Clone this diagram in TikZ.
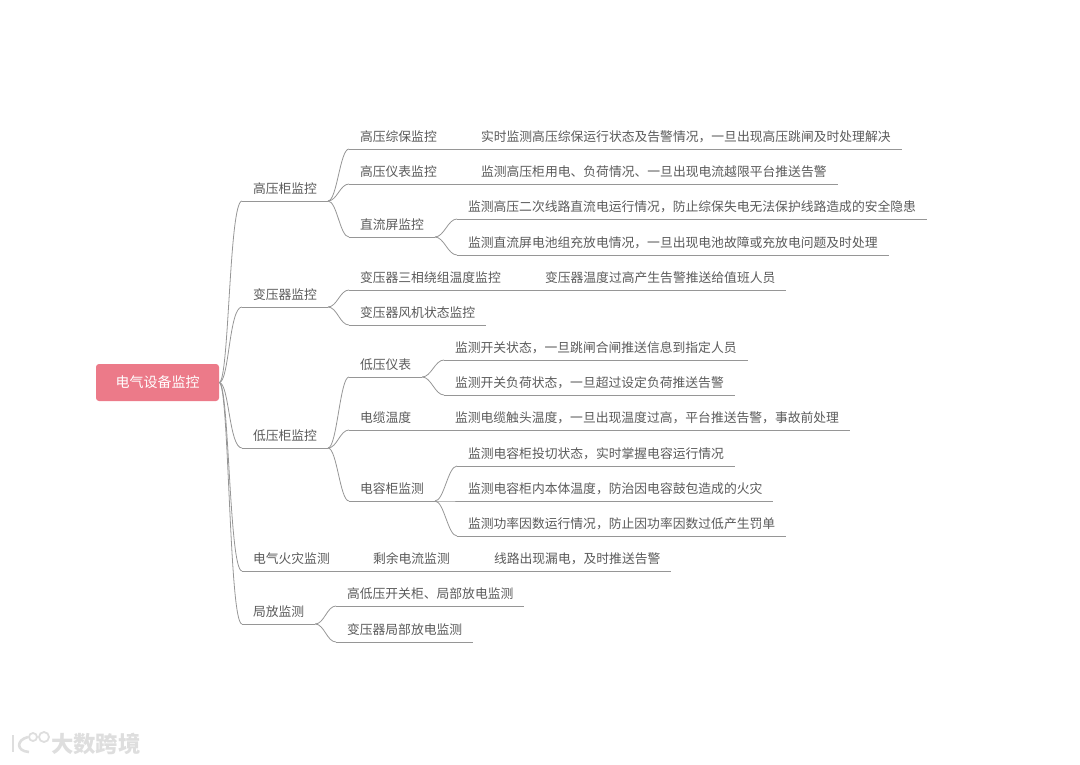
\documentclass[tikz,border=0pt]{standalone}
\usepackage{fontspec}
\usepackage{xcolor}
\usepackage{tikz}
\usetikzlibrary{positioning}
\setmainfont{Noto Sans CJK SC}
\definecolor{rootred}{RGB}{236,122,137}
\definecolor{inkgray}{RGB}{90,90,90}
\definecolor{linegray}{RGB}{150,150,150}
\definecolor{markgray}{RGB}{222,222,222}

\begin{document}
\begin{tikzpicture}[
    x=1pt, y=-1pt,
    link/.style={draw=linegray, line width=0.8pt},
    branch/.style={out=0, in=180, out distance=9pt, in distance=9pt},
    trunk/.style={out=0, in=180, out distance=10pt, in distance=13pt},
    root/.style={fill=rootred, rounded corners=3pt, minimum width=123pt, minimum height=37pt,
                 text=white, font=\fontsize{14}{16}\selectfont, inner sep=0pt},
    topic/.style={anchor=south west, outer sep=0pt, inner xsep=11pt, inner ysep=6pt,
                  text height=10.8pt, text depth=2pt, text=inkgray,
                  font=\fontsize{12.8}{15}\selectfont,
                  append after command={(\tikzlastnode.south west) edge[link] (\tikzlastnode.south east)}},
]
\useasboundingbox (0,0) rectangle (1080,764);

\node[root] (power) at (157.5,382.5) {电气设备监控};

% first level
\node[topic] (hv) at (242,201) {高压柜监控};
\node[topic] (tr) at (242,307) {变压器监控};
\node[topic] (lv) at (242,448) {低压柜监控};
\node[topic] (fire) at (242,571) {电气火灾监测};
\node[topic] (pd) at (242,624) {局放监测};

% high voltage
\node[topic] (hvprot) at (349,149) {高压综保监控};
\node[topic] (hvprotnote) at (470,149) {实时监测高压综保运行状态及告警情况，一旦出现高压跳闸及时处理解决};
\node[topic] (hvmeter) at (349,184) {高压仪表监控};
\node[topic] (hvmeternote) at (470,184) {监测高压柜用电、负荷情况、一旦出现电流越限平台推送告警};
\node[topic] (dc) at (349,237) {直流屏监控};
\node[topic] (dcline) at (457,219) {监测高压二次线路直流电运行情况，防止综保失电无法保护线路造成的安全隐患};
\node[topic] (dcbat) at (457,255) {监测直流屏电池组充放电情况，一旦出现电池故障或充放电问题及时处理};

% transformer
\node[topic] (trtemp) at (349,290) {变压器三相绕组温度监控};
\node[topic] (trtempnote) at (534,290) {变压器温度过高产生告警推送给值班人员};
\node[topic] (trfan) at (349,325) {变压器风机状态监控};

% low voltage
\node[topic] (lvmeter) at (349,377) {低压仪表};
\node[topic] (lvswitch) at (444,360) {监测开关状态，一旦跳闸合闸推送信息到指定人员};
\node[topic] (lvload) at (444,395) {监测开关负荷状态，一旦超过设定负荷推送告警};
\node[topic] (cable) at (349,430) {电缆温度};
\node[topic] (cablenote) at (444,430) {监测电缆触头温度，一旦出现温度过高，平台推送告警，事故前处理};
\node[topic] (cap) at (349,501) {电容柜监测};
\node[topic] (capstate) at (457,466) {监测电容柜投切状态，实时掌握电容运行情况};
\node[topic] (captemp) at (457,501) {监测电容柜内本体温度，防治因电容鼓包造成的火灾};
\node[topic] (capfactor) at (457,536) {监测功率因数运行情况，防止因功率因数过低产生罚单};

% fire and partial discharge
\node[topic] (residual) at (362,571) {剩余电流监测};
\node[topic] (residualnote) at (483,571) {线路出现漏电，及时推送告警};
\node[topic] (pdswitch) at (336,606) {高低压开关柜、局部放电监测};
\node[topic] (pdtr) at (336,642) {变压器局部放电监测};

\foreach \kid in {hv,tr,lv,fire,pd}
    \draw[link] (power.east) to[trunk] (\kid.south west);
\foreach \kid in {hvprot,hvmeter,dc}
    \draw[link] (hv.south east) to[branch] (\kid.south west);
\foreach \kid in {dcline,dcbat}
    \draw[link] (dc.south east) to[branch] (\kid.south west);
\foreach \kid in {trtemp,trfan}
    \draw[link] (tr.south east) to[branch] (\kid.south west);
\foreach \kid in {lvmeter,cable,cap}
    \draw[link] (lv.south east) to[branch] (\kid.south west);
\foreach \kid in {lvswitch,lvload}
    \draw[link] (lvmeter.south east) to[branch] (\kid.south west);
\foreach \kid in {capstate,captemp,capfactor}
    \draw[link] (cap.south east) to[branch] (\kid.south west);
\foreach \kid in {pdswitch,pdtr}
    \draw[link] (pd.south east) to[branch] (\kid.south west);

\draw[link] (hvprot.south east) -- (hvprotnote.south west);
\draw[link] (hvmeter.south east) -- (hvmeternote.south west);
\draw[link] (trtemp.south east) -- (trtempnote.south west);
\draw[link] (cable.south east) -- (cablenote.south west);
\draw[link] (fire.south east) -- (residual.south west);
\draw[link] (residual.south east) -- (residualnote.south west);

% watermark
\node[text=markgray, font=\fontsize{22.4}{24}\selectfont\bfseries, inner sep=0pt] (mark) at (96,744) {大数跨境};
\draw[markgray, line width=2.6pt] (13,735) -- (13,752);
\draw[markgray, line width=2.6pt] (28,737) .. controls (16,740) and (16,751) .. (29,752);
\draw[markgray, line width=1.8pt] (33,737) circle (4) (44,737) circle (5);
\end{tikzpicture}
\end{document}
